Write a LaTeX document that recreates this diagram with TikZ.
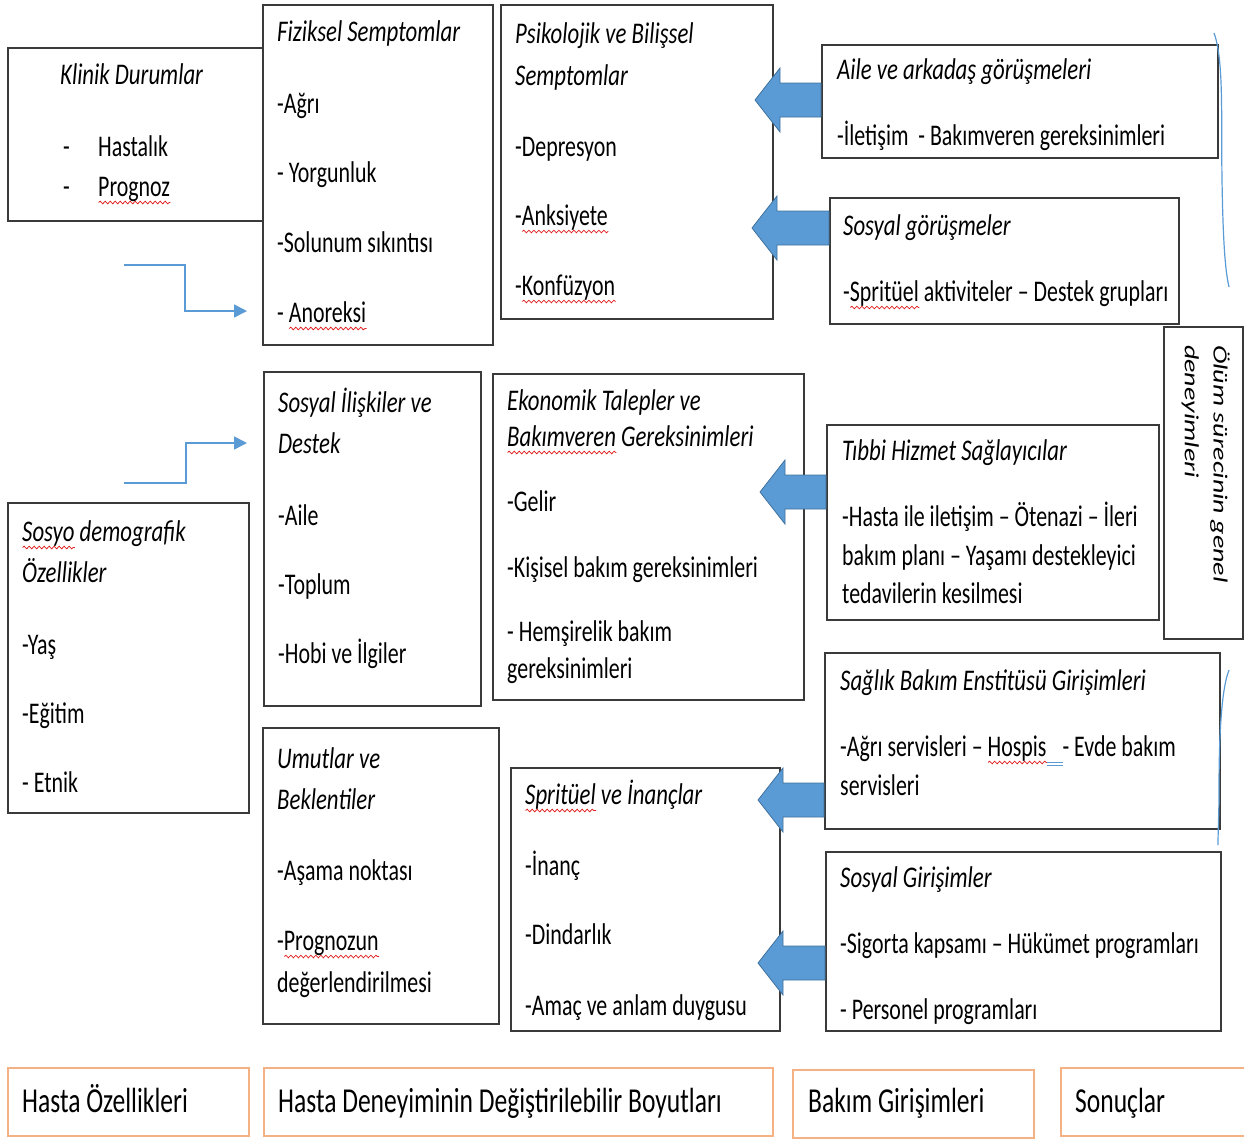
\documentclass[tikz,border=0pt]{standalone}
\usepackage{fontspec}
\setmainfont{Carlito}[FakeStretch=0.73,ItalicFeatures={FakeStretch=0.76}]
\newfontfamily\rotfont{Carlito}
\usetikzlibrary{calc,arrows.meta,decorations.pathmorphing}
\definecolor{boxline}{HTML}{3A3A3A}
\definecolor{arrblue}{HTML}{5B9BD5}
\definecolor{arredge}{HTML}{41719C}
\definecolor{lineblue}{HTML}{5B9BD5}
\definecolor{orangeline}{HTML}{F4B183}
\definecolor{squigred}{HTML}{E02020}
\newlength\sqw
\newcommand\squig[1]{\settowidth\sqw{#1}\rlap{\tikz[baseline=0pt,x=1pt,y=1pt]\draw[squigred,line width=0.8pt,decorate,decoration={snake,amplitude=1.3pt,segment length=5pt}] (0pt,-6pt) -- (\sqw,-6pt);}#1}
\newcommand\dblgap{\makebox[16pt][l]{\textcolor{lineblue}{\rule[-6pt]{16pt}{1pt}\hspace{-16pt}\rule[-9.5pt]{16pt}{1pt}}}}
\newcommand\bodyfont{\fontsize{30pt}{39pt}\selectfont}
\newcommand\lblfont{\fontsize{35pt}{42pt}\selectfont}
\newcommand\barrow[3]{%
  \draw[barrowst] (#1.west |- 0,#3-17) -- (#2+25,#3-17) -- (#2+25,#3-32) -- (#2,#3)
    -- (#2+25,#3+32) -- (#2+25,#3+17) -- (#1.west |- 0,#3+17) -- cycle;}
\tikzset{
  box/.style={draw=boxline, line width=1.5pt, anchor=north west, inner sep=0pt},
  lbl/.style={draw=orangeline, line width=1.6pt, anchor=north west, inner sep=0pt},
  txt/.style={anchor=north west, align=left, inner sep=0pt, font=\bodyfont},
  lbltxt/.style={anchor=base west, inner sep=0pt, font=\lblfont},
  barrowst/.style={fill=arrblue, draw=arredge, line width=0.8pt},
  conn/.style={draw=lineblue, line width=1.5pt, -{Triangle[length=13pt,width=13pt]}},
  brace/.style={draw=lineblue, line width=1.2pt},
}
\begin{document}
\begin{tikzpicture}[x=1pt,y=-1pt]
\useasboundingbox (0,0) rectangle (1244,1138);
% boxes
\node[box, minimum width=255pt, minimum height=173pt] (klinik) at (7,47) {};
\node[box, minimum width=230pt, minimum height=340pt] (fiz) at (262,4) {};
\node[box, minimum width=272pt, minimum height=314pt] (psiko) at (500,4) {};
\node[box, minimum width=396pt, minimum height=113pt] (aile) at (821,44) {};
\node[box, minimum width=349pt, minimum height=126pt] (sosgor) at (829,197) {};
\node[box, minimum width=79pt, minimum height=312pt] (olum) at (1163,326) {};
\node[box, minimum width=217pt, minimum height=334pt] (sosil) at (263,371) {};
\node[box, minimum width=311pt, minimum height=326pt] (eko) at (492,373) {};
\node[box, minimum width=332pt, minimum height=195pt] (tibbi) at (826,424) {};
\node[box, minimum width=241pt, minimum height=310pt] (sosyo) at (7,502) {};
\node[box, minimum width=395pt, minimum height=176pt] (saglik) at (824,652) {};
\node[box, minimum width=236pt, minimum height=296pt] (umut) at (262,727) {};
\node[box, minimum width=269pt, minimum height=263pt] (spirit) at (510,767) {};
\node[box, minimum width=395pt, minimum height=179pt] (sosgir) at (825,851) {};
% texts
\node[txt] (klinikt) at (60,57) {\strut\textit{Klinik Durumlar}\\[33pt]
  \hspace*{3pt}\makebox[35pt][l]{-}Hastalık\\[1pt]
  \hspace*{3pt}\makebox[35pt][l]{-}\squig{Prognoz}};
\node[txt] (fizt) at (277,14) {\strut\textit{Fiziksel Semptomlar}\\[33pt]
  -Ağrı\\[30pt] - Yorgunluk\\[31pt] -Solunum sıkıntısı\\[31pt] - \squig{Anoreksi}};
\node[txt] (psikot) at (515,16) {\strut\textit{Psikolojik ve Bilişsel}\\[3pt]
  \textit{Semptomlar}\\[32pt] -Depresyon\\[30pt] -\squig{Anksiyete}\\[31pt] -\squig{Konfüzyon}};
\node[txt] (ailet) at (837,52) {\strut\textit{Aile ve arkadaş görüşmeleri}\\[27pt]
  -İletişim \ - Bakımveren gereksinimleri};
\node[txt] (sosgort) at (843,208) {\strut\textit{Sosyal görüşmeler}\\[27pt]
  -\squig{Spritüel} aktiviteler – Destek grupları};
\node[txt] (sosilt) at (278,385) {\strut\textit{Sosyal İlişkiler ve}\\[2pt]
  \textit{Destek}\\[33pt] -Aile\\[30pt] -Toplum\\[30pt] -Hobi ve İlgiler};
\node[txt] (ekot) at (507,383) {\strut\textit{Ekonomik Talepler ve}\\[-3pt]
  \textit{\squig{Bakımveren} Gereksinimleri}\\[26pt] -Gelir\\[27pt]
  -Kişisel bakım gereksinimleri\\[25pt] - Hemşirelik bakım\\[-2pt] gereksinimleri};
\node[txt] (tibbit) at (842,433) {\strut\textit{Tıbbi Hizmet Sağlayıcılar}\\[27pt]
  -Hasta ile iletişim – Ötenazi – İleri\\[0pt] bakım planı – Yaşamı destekleyici\\[-1pt]
  tedavilerin kesilmesi};
\node[txt] (sosyot) at (22,514) {\strut\textit{\squig{Sosyo} demografik}\\[2pt]
  \textit{Özellikler}\\[33pt] -Yaş\\[30pt] -Eğitim\\[30pt] - Etnik};
\node[txt] (saglikt) at (840,663) {\strut\textit{Sağlık Bakım Enstitüsü Girişimleri}\\[27pt]
  -Ağrı servisleri – \squig{Hospis}\dblgap- Evde bakım\\[0pt] servisleri};
\node[txt] (umutt) at (277,741) {\strut\textit{Umutlar ve}\\[2pt]
  \textit{Beklentiler}\\[32pt] -Aşama noktası\\[31pt] -\squig{Prognozun}\\[3pt] değerlendirilmesi};
\node[txt] (spiritt) at (525,777) {\strut\textit{\squig{Spritüel} ve İnançlar}\\[32pt]
  -İnanç\\[30pt] -Dindarlık\\[32pt] -Amaç ve anlam duygusu};
\node[txt] (sosgirt) at (840,860) {\strut\textit{Sosyal Girişimler}\\[27pt]
  -Sigorta kapsamı – Hükümet programları\\[27pt] - Personel programları};
\node[anchor=north east, inner sep=0pt] (olumt) at (1234,345) {\rotatebox{-90}{\scalebox{1}[0.72]{\rotfont\itshape\fontsize{28pt}{40pt}\selectfont\begin{tabular}{@{}l@{}}Ölüm sürecinin genel\\deneyimleri\end{tabular}}}};
% bottom labels
\node[lbl, minimum width=241pt, minimum height=68pt] (hasta) at (7,1067) {};
\node[lbl, minimum width=509pt, minimum height=68pt] (boyut) at (263,1067) {};
\node[lbl, minimum width=241pt, minimum height=68pt] (bakim) at (792,1069) {};
\node[lbl, minimum width=200pt, minimum height=68pt] (sonuc) at (1060,1067) {};
\node[lbltxt] (hastat) at ($(hasta.west)+(15,11)$) {Hasta Özellikleri};
\node[lbltxt] (boyutt) at ($(boyut.west)+(15,11)$) {Hasta Deneyiminin Değiştirilebilir Boyutları};
\node[lbltxt] (bakimt) at ($(bakim.west)+(16,9)$) {Bakım Girişimleri};
\node[lbltxt] (sonuct) at ($(sonuc.west)+(15,11)$) {Sonuçlar};
% block arrows
\barrow{aile}{755}{100}
\barrow{sosgor}{752}{228}
\barrow{tibbi}{760}{492}
\barrow{saglik}{758}{800}
\barrow{sosgir}{758}{963}
% elbow connectors
\coordinate (c1s) at (124,265);
\coordinate (c1e) at ($(fiz.west |- 0,311)+(-15,0)$);
\draw[conn] (c1s) -- ++(61,0) |- (c1e);
\coordinate (c2s) at (124,483);
\coordinate (c2e) at ($(sosil.west |- 0,443)+(-16,0)$);
\draw[conn] (c2s) -- ++(62,0) |- (c2e);
% braces
\draw[brace] (1214,33) .. controls (1224,60) and (1221,120) .. (1222,180)
  .. controls (1223,240) and (1225,270) .. (1229,287);
\draw[brace] (1229,670) .. controls (1221,690) and (1219,740) .. (1219,790)
  .. controls (1219,815) and (1218,830) .. (1218,845);
\end{tikzpicture}
\end{document}
